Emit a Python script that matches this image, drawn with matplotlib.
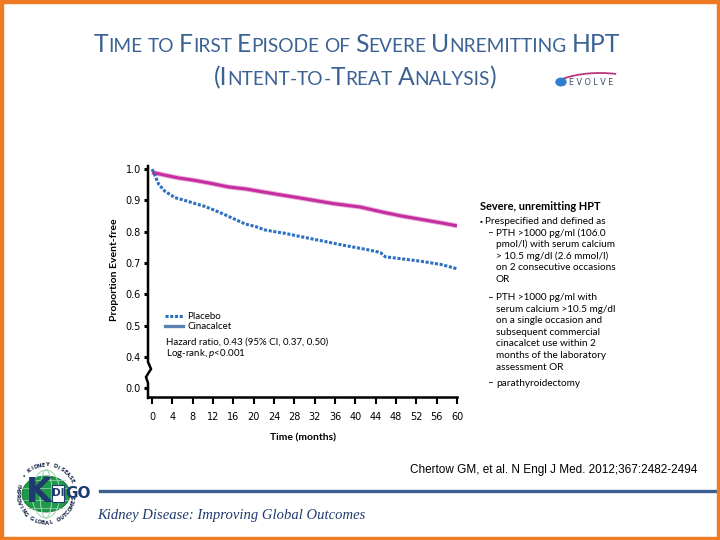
import numpy as np
import matplotlib
matplotlib.use("Agg")
import matplotlib.pyplot as plt
from matplotlib.lines import Line2D
from matplotlib.patches import Rectangle, Circle, Arc

# ---------------- data ----------------
pla_t = [0, 0.3, 1.3, 2.5, 4.5, 6.5, 8.5, 10.4, 12.4, 14.4, 16.3, 18.3, 20.3, 22.2,
         24.2, 26.2, 29.1, 33.1, 37.0, 42.3, 44.9, 45.9, 48.9, 52.8, 56.7, 60]
pla_s = [1.0, 0.99, 0.952, 0.930, 0.909, 0.900, 0.890, 0.881, 0.868, 0.854, 0.840,
         0.825, 0.817, 0.806, 0.800, 0.795, 0.785, 0.772, 0.759, 0.743, 0.734, 0.720,
         0.714, 0.706, 0.696, 0.682]
cin_t = [0, 2.5, 5.2, 8.5, 11.8, 15.1, 18.4, 21.6, 24.9, 29.1, 35.7, 41.0, 45.6,
         48.9, 53.5, 57.4, 60]
cin_s = [0.99, 0.981, 0.972, 0.964, 0.954, 0.943, 0.937, 0.928, 0.919, 0.908, 0.890,
         0.879, 0.862, 0.851, 0.838, 0.827, 0.819]
x_ticks = list(range(0, 61, 4))
y_ticks = [0.3, 0.4, 0.5, 0.6, 0.7, 0.8, 0.9, 1.0]
y_tick_labels = ["0.0", "0.4", "0.5", "0.6", "0.7", "0.8", "0.9", "1.0"]
series_names = ["Placebo", "Cinacalcet"]

W, H = 720, 540
TITLE_C = "#3c6294"
NAVY = "#1f3a6e"
MAG = "#c42e9e"
BLUE = "#2a6fc0"
LEG2 = "#5b80b2"

plt.rcParams["font.family"] = ["Lato", "DejaVu Sans"]
plt.rcParams["mathtext.fontset"] = "custom"
plt.rcParams["mathtext.it"] = "Lato:italic"
plt.rcParams["mathtext.rm"] = "Lato"

fig = plt.figure(figsize=(7.2, 5.4), dpi=100)


def fx(x):
    return x / W


def fy(y):
    return 1 - y / H


# ---------------- axes ----------------
ax = fig.add_axes([fx(148), fy(397), fx(457) - fx(148), fy(167) - fy(397)])
ax.set_xlim(-0.8, 60)
ax.set_ylim(0.272, 1.007)

ax.plot(cin_t, cin_s, color="#eab0dc", lw=3.6, solid_capstyle="butt", zorder=3)
ax.plot(cin_t, cin_s, color=MAG, lw=2.2, solid_capstyle="butt", zorder=4)
ax.plot(pla_t, pla_s, color=BLUE, lw=2.2, linestyle=(0, (1.0, 0.55)),
        dash_capstyle="butt", zorder=4)

for s in ["top", "right", "left"]:
    ax.spines[s].set_visible(False)
ax.spines["bottom"].set_linewidth(1.8)
ax.spines["bottom"].set_color("black")

ax.set_xticks(x_ticks)
ax.set_xticklabels([str(v) for v in x_ticks], fontsize=7, family="DejaVu Sans")
ax.set_yticks(y_ticks)
ax.set_yticklabels(y_tick_labels, fontsize=7, family="DejaVu Sans")
ax.tick_params(axis="x", direction="out", length=5, width=1.5, pad=6)
ax.tick_params(axis="y", direction="out", length=3, width=2.2, pad=2)

# left spine with break
spine_pts_x = [148, 148, 151, 146, 148, 148]
spine_pts_y = [166, 362, 369, 377, 383, 398]
fig.add_artist(Line2D([fx(v) for v in spine_pts_x], [fy(v) for v in spine_pts_y],
                      transform=fig.transFigure, color="black", lw=1.8,
                      solid_joinstyle="miter"))

ax.set_xlabel("Time (months)", fontsize=7.5, fontweight="bold", labelpad=8)
fig.text(fx(115), fy(270), "Proportion Event-free", rotation=90, fontsize=7.5,
         fontweight="bold", ha="center", va="center")

# legend
handles = [Line2D([], [], color=BLUE, lw=2.2, linestyle=(0, (1.0, 0.55)), dash_capstyle="butt"),
           Line2D([], [], color=LEG2, lw=2.4)]
leg = ax.legend(handles, series_names, loc="upper left",
                bbox_to_anchor=(fx(165), fy(312)), bbox_transform=fig.transFigure,
                frameon=False, fontsize=7, handlelength=1.9, handletextpad=0.4,
                labelspacing=0.15, borderaxespad=0, borderpad=0)
fig.text(fx(166), fy(342), "Hazard ratio, 0.43 (95% CI, 0.37, 0.50)", fontsize=7,
         va="center", ha="left")
fig.text(fx(166), fy(354), r"Log-rank, $\it{p}$<0.001", fontsize=7, va="center", ha="left")

# ---------------- right text block ----------------
BODY = 7.2
fig.text(fx(480), fy(206), "Severe, unremitting HPT", fontsize=7.9, fontweight="bold",
         va="center", ha="left")
fig.text(fx(479), fy(221), "\u25aa", fontsize=5, va="center", ha="left")
fig.text(fx(485), fy(221), "Prespecified and defined as", fontsize=BODY, va="center", ha="left")
block = [
    (233, True, "PTH >1000 pg/ml (106.0"),
    (244.5, False, "pmol/l) with serum calcium"),
    (256, False, "> 10.5 mg/dl (2.6 mmol/l)"),
    (267.5, False, "on 2 consecutive occasions"),
    (279, False, "OR"),
    (297.5, True, "PTH >1000 pg/ml with"),
    (309, False, "serum calcium >10.5 mg/dl"),
    (320.5, False, "on a single occasion and"),
    (332.5, False, "subsequent commercial"),
    (344, False, "cinacalcet use within 2"),
    (356, False, "months of the laboratory"),
    (368, False, "assessment OR"),
    (383, True, "parathyroidectomy"),
]
for yy, dash, txt in block:
    if dash:
        fig.text(fx(487), fy(yy), "\u2013", fontsize=BODY, va="center", ha="left")
    fig.text(fx(496), fy(yy), txt, fontsize=BODY, va="center", ha="left")

# ---------------- title (small caps) ----------------
BIG, SMALL = 17.8, 13.8


def small_caps_line(segments, cx, ybase):
    renderer = fig.canvas.get_renderer()
    texts = []
    for s, big in segments:
        t = fig.text(0, fy(ybase), s, fontsize=BIG if big else SMALL, color=TITLE_C,
                     va="baseline", ha="left")
        texts.append(t)
    widths = [t.get_window_extent(renderer).width for t in texts]
    total = sum(widths)
    x = cx - total / 2
    for t, w in zip(texts, widths):
        t.set_x(fx(x))
        x += w


NB = "\u00a0"
line1 = [("T", True), ("IME", False), (NB, False), ("TO", False), (NB, False),
         ("F", True), ("IRST", False), (NB, False), ("E", True), ("PISODE", False),
         (NB, False), ("OF", False), (NB, False), ("S", True), ("EVERE", False),
         (NB, False), ("U", True), ("NREMITTING", False), (NB, False), ("HPT", True)]
line2 = [("(I", True), ("NTENT", False), ("-", False), ("TO", False), ("-", False),
         ("T", True), ("REAT", False), (NB, False), ("A", True), ("NALYSIS", False),
         (")", True)]

small_caps_line(line1, 357, 52)
small_caps_line(line2, 355, 85)

# EVOLVE logo
fig.add_artist(Arc((fx(600), fy(95)), fx(110), 44 / H, theta1=60, theta2=150,
                   transform=fig.transFigure, color="#b8367e", lw=1.3))
fig.add_artist(Circle((fx(561), fy(82)), 5 / W, transform=fig.transFigure,
                      color="#2f7fd0", zorder=5))
fig.text(fx(569), fy(82.5), "E V O L V E", fontsize=5.8, color="#3a4a6a", va="center",
         ha="left", family="DejaVu Sans")

# ---------------- footer ----------------
fig.add_artist(Line2D([fx(100), fx(720)], [fy(491), fy(491)], transform=fig.transFigure,
                      color="#3d6090", lw=2.4))
fig.text(fx(697), fy(470), "Chertow GM, et al. N Engl J Med. 2012;367:2482-2494",
         fontsize=8.5, family="Liberation Sans", ha="right", va="center", color="black")
fig.text(fx(97), fy(515), "Kidney Disease: Improving Global Outcomes", fontsize=10.5,
         family="Liberation Serif", style="italic", ha="left", va="center", color=NAVY)

# KDIGO logo
LCX, LCY = 46, 494
fig.add_artist(Circle((fx(LCX), fy(LCY)), 24 / W, transform=fig.transFigure,
                      facecolor="#1e9a4a", edgecolor="#166e36", lw=0.6))
for dx in (-14, -6, 6, 14):
    fig.add_artist(Arc((fx(LCX), fy(LCY)), 2 * abs(dx) / W, 48 / H,
                       transform=fig.transFigure, color="#9fd8b0", lw=0.5))
for dy in (-14, -6, 6, 14):
    hw = (24 ** 2 - dy ** 2) ** 0.5
    fig.add_artist(Line2D([fx(LCX - hw), fx(LCX + hw)], [fy(LCY + dy)] * 2,
                          transform=fig.transFigure, color="#9fd8b0", lw=0.5))


def ring_text(s, start_deg, step_deg, top=True, r=29):
    ang = start_deg
    for ch in s:
        a = np.deg2rad(ang)
        x = LCX + r * np.cos(a)
        y = LCY - r * np.sin(a)
        rot = ang - 90 if top else ang + 90
        fig.text(fx(x), fy(y), ch, fontsize=3.8, fontweight="bold", rotation=rot,
                 ha="center", va="center", family="DejaVu Sans", color="#1a2a4a",
                 rotation_mode="anchor")
        ang += step_deg


ring_text("\u2022 KIDNEY DISEASE", 140, -7.5, top=True)
ring_text("IMPROVING GLOBAL OUTCOMES", 160, 8.0, top=False)

fig.add_artist(Rectangle((fx(52), fy(502)), 12 / W, 17 / H, transform=fig.transFigure,
                         facecolor="white", edgecolor=NAVY, lw=0.8, zorder=6))
fig.text(fx(39), fy(493), "K", fontsize=24, fontweight="bold", color=NAVY,
         ha="center", va="center", family="DejaVu Sans", zorder=7)
fig.text(fx(58), fy(493.5), "DI", fontsize=7.5, fontweight="bold", color=NAVY,
         ha="center", va="center", family="DejaVu Sans", zorder=7)
fig.text(fx(78), fy(493), "GO", fontsize=11, fontweight="bold", color=NAVY,
         ha="center", va="center", family="DejaVu Sans", zorder=7)

# orange frame
for (x0, y0, w, h) in [(0, 0, 720, 3), (0, 537, 720, 3), (0, 0, 3, 540), (717, 0, 3, 540)]:
    fig.add_artist(Rectangle((fx(x0), fy(y0 + h)), w / W, h / H, transform=fig.transFigure,
                             color="#ee7a22", zorder=10))

fig.savefig("out.png", dpi=100)
